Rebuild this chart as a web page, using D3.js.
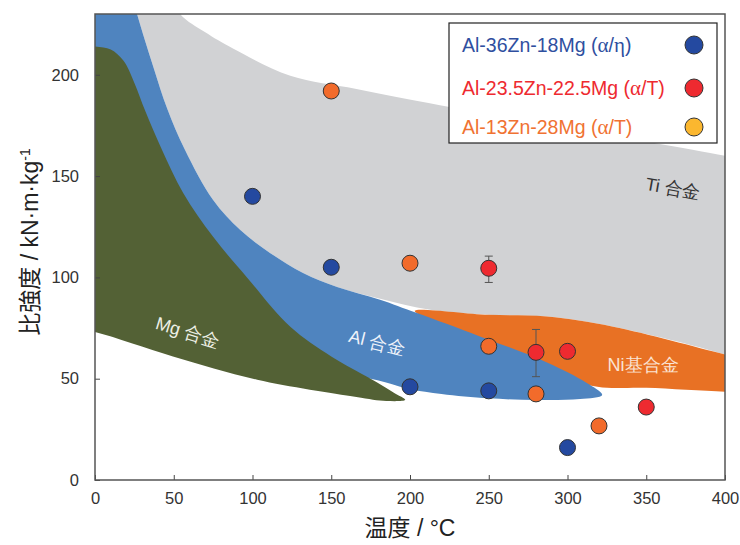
<!DOCTYPE html>
<html>
<head>
<meta charset="utf-8">
<script src="https://cdn.jsdelivr.net/npm/d3@7"></script>
<style>
  body { margin: 0; background: #fff; }
  text { font-family: "Liberation Sans", Arial, sans-serif; }
</style>
</head>
<body>
<div id="chart"></div>
<script>
// series: [temperature, specific strength]
var alZnMgA = [[100, 140], [150, 105], [200, 46], [250, 44], [300, 16]];
var alZnMgB = [[250, 104.5], [280, 63], [300, 63.5], [350, 36]];
var alZnMgC = [[150, 192], [200, 107], [250, 66], [280, 42.5], [320, 26.7]];
// error bars: [temperature, low, high]
var errB = [[250, 97.5, 110.5], [280, 51, 74.3]];

var xTicks = [0, 50, 100, 150, 200, 250, 300, 350, 400];
var yTicks = [0, 50, 100, 150, 200];

// alloy regions (outlines)
var tiRegion = [[40, 250], [54, 230], [70, 221], [87.6, 213], [124, 199.5], [166, 193], [219, 185],
  [300, 174], [400, 160], [425, 156], [425, 55], [400, 62], [329, 75.7], [287, 80.7], [250, 81.5],
  [212.7, 84], [181, 89.5], [153.7, 95.3], [132.1, 102.2], [111.1, 112.1], [92.1, 123.5],
  [74.9, 138.3], [57.1, 163], [46, 183], [37, 204], [26.7, 230], [20, 250]];
var niRegion = [[203, 83.5], [250, 81.5], [287, 80.7], [329, 75.7], [400, 62], [425, 57], [425, 43.3],
  [400, 43.6], [350, 45.5], [319, 46], [280, 55], [240, 68], [215, 78]];
var alRegion = [[-20, 250], [20, 250], [26.7, 230], [37, 204], [46, 183], [57.1, 163], [74.9, 138.3],
  [92.1, 123.5], [111.1, 112.1], [132.1, 102.2], [153.7, 95.3], [181, 89], [204, 82.5], [244, 71],
  [287, 58], [312, 48], [322, 42], [308, 40], [280, 39.5], [250, 40.3], [220, 42.5], [200, 44.8],
  [183, 48.5], [150, 55], [100, 72], [50, 105], [-20, 150]];
var mgRegion = [[-20, 216], [0, 214], [10, 212.5], [18, 207], [25, 196], [32, 182], [42.5, 163],
  [56, 141.7], [75, 120], [96.5, 100], [124, 75.6], [150, 61], [175, 50], [190, 43], [197, 39.6],
  [185, 39], [166, 41], [103, 49.5], [49.5, 61], [0, 73], [-20, 76]];

var width = 740, height = 545;
var margin = {top: 14, right: 15, bottom: 65, left: 95};
var w = width - margin.left - margin.right,
    h = height - margin.top - margin.bottom;

var x = d3.scaleLinear().domain([0, 400]).range([0, w]);
var y = d3.scaleLinear().domain([0, 230]).range([h, 0]);

var svg = d3.select("#chart").append("svg")
  .attr("width", width)
  .attr("height", height);

svg.append("defs").append("clipPath").attr("id", "plot")
  .append("rect").attr("width", w).attr("height", h);

var g = svg.append("g").attr("transform", "translate(" + margin.left + "," + margin.top + ")");

var outline = d3.line()
  .x(function(d) { return x(d[0]); })
  .y(function(d) { return y(d[1]); })
  .curve(d3.curveCatmullRomClosed.alpha(0.5));

var regions = g.append("g").attr("clip-path", "url(#plot)");
regions.append("path").datum(tiRegion).attr("d", outline).attr("fill", "#d1d2d4");
regions.append("path").datum(niRegion).attr("d", outline).attr("fill", "#e87124");
regions.append("path").datum(alRegion).attr("d", outline).attr("fill", "#4f84bf");
regions.append("path").datum(mgRegion).attr("d", outline).attr("fill", "#536135");

// region labels
function regionLabel(tx, ty, rot, txt, col) {
  g.append("text")
    .attr("transform", "translate(" + x(tx) + "," + y(ty) + ") rotate(" + rot + ")")
    .attr("text-anchor", "middle")
    .attr("dy", "0.35em")
    .style("font-size", "18px")
    .style("fill", col)
    .text(txt);
}
regionLabel(59, 73, 17, "Mg 合金", "#eef0e6");
regionLabel(179, 68, 14, "Al 合金", "#eef3fa");
regionLabel(367, 144, 10, "Ti 合金", "#333");
regionLabel(348, 57, 0, "Ni基合金", "#fbe3d3");

// axes
g.append("g")
  .attr("transform", "translate(0," + h + ")")
  .call(d3.axisBottom(x).tickValues(xTicks).tickSizeInner(-5).tickSizeOuter(0).tickPadding(12))
  .call(function(a) {
    a.select(".domain").remove();
    a.selectAll("line").attr("stroke", "#444");
    a.selectAll("text").style("font-size", "16.5px").style("fill", "#333").style("font-family", "Liberation Sans, Arial, sans-serif");
  });

g.append("g")
  .call(d3.axisLeft(y).tickValues(yTicks).tickSizeInner(-5).tickSizeOuter(0).tickPadding(16))
  .call(function(a) {
    a.select(".domain").remove();
    a.selectAll("line").attr("stroke", "#444");
    a.selectAll("text").style("font-size", "16.5px").style("fill", "#333").style("font-family", "Liberation Sans, Arial, sans-serif");
  });

g.append("rect")
  .attr("width", w).attr("height", h)
  .attr("fill", "none")
  .attr("stroke", "#555")
  .attr("stroke-width", 1.5);

// error bars
var eb = g.append("g").attr("stroke", "#555").attr("stroke-width", 1);
errB.forEach(function(d) {
  eb.append("line").attr("x1", x(d[0])).attr("x2", x(d[0])).attr("y1", y(d[1])).attr("y2", y(d[2]));
  eb.append("line").attr("x1", x(d[0]) - 4).attr("x2", x(d[0]) + 4).attr("y1", y(d[1])).attr("y2", y(d[1]));
  eb.append("line").attr("x1", x(d[0]) - 4).attr("x2", x(d[0]) + 4).attr("y1", y(d[2])).attr("y2", y(d[2]));
});

function dots(data, col) {
  g.append("g").selectAll("circle")
    .data(data)
    .enter().append("circle")
      .attr("cx", function(d) { return x(d[0]); })
      .attr("cy", function(d) { return y(d[1]); })
      .attr("r", 8)
      .attr("fill", col)
      .attr("stroke", "#333")
      .attr("stroke-width", 1);
}
dots(alZnMgA, "#2449a0");
dots(alZnMgB, "#ee2a30");
dots(alZnMgC, "#f26b2b");

// legend
var legend = [
  {name: "Al-36Zn-18Mg", phase: "η", text: "#2f4f9f", mark: "#2449a0"},
  {name: "Al-23.5Zn-22.5Mg", phase: "T", text: "#ee2a30", mark: "#ee2a30"},
  {name: "Al-13Zn-28Mg", phase: "T", text: "#f07232", mark: "#fbb72f"}
];
var lg = svg.append("g").attr("transform", "translate(449,23)");
lg.append("rect").attr("width", 268).attr("height", 120)
  .attr("fill", "#fff").attr("stroke", "#222").attr("stroke-width", 1.2);
var rows = lg.selectAll("g.row").data(legend).enter().append("g")
  .attr("class", "row")
  .attr("transform", function(d, i) { return "translate(0," + [22, 65, 104][i] + ")"; });
var lt = rows.append("text")
  .attr("x", 13)
  .attr("dy", "0.35em")
  .style("font-size", "19.5px")
  .style("fill", function(d) { return d.text; });
lt.append("tspan").text(function(d) { return d.name + " ("; });
lt.append("tspan").style("font-family", "Liberation Serif, serif").style("font-size", "21px").text("α");
lt.append("tspan").text("/");
lt.append("tspan").style("font-family", function(d) { return d.phase == "η" ? "Liberation Serif, serif" : null; })
  .style("font-size", function(d) { return d.phase == "η" ? "21px" : null; })
  .text(function(d) { return d.phase; });
lt.append("tspan").text(")");
rows.append("circle").attr("cx", 245).attr("r", 9)
  .attr("fill", function(d) { return d.mark; })
  .attr("stroke", "#333").attr("stroke-width", 1);

// axis titles
var xt = svg.append("text")
  .attr("x", margin.left + x(200)).attr("y", 536)
  .attr("text-anchor", "middle")
  .style("font-size", "23px").style("fill", "#222");
xt.append("tspan").style("font-family", "Noto Sans CJK JP, sans-serif").text("温度");
xt.append("tspan").text(" / °C");

var yt = svg.append("text")
  .attr("transform", "translate(38,242) rotate(-90)")
  .attr("text-anchor", "middle")
  .style("font-size", "23px").style("fill", "#222");
yt.append("tspan").style("font-family", "Noto Sans CJK JP, sans-serif").text("比強度");
yt.append("tspan").text("  / kN·m·kg");
yt.append("tspan").attr("dy", "-0.55em").style("font-size", "14px").text("-1");
</script>
</body>
</html>
